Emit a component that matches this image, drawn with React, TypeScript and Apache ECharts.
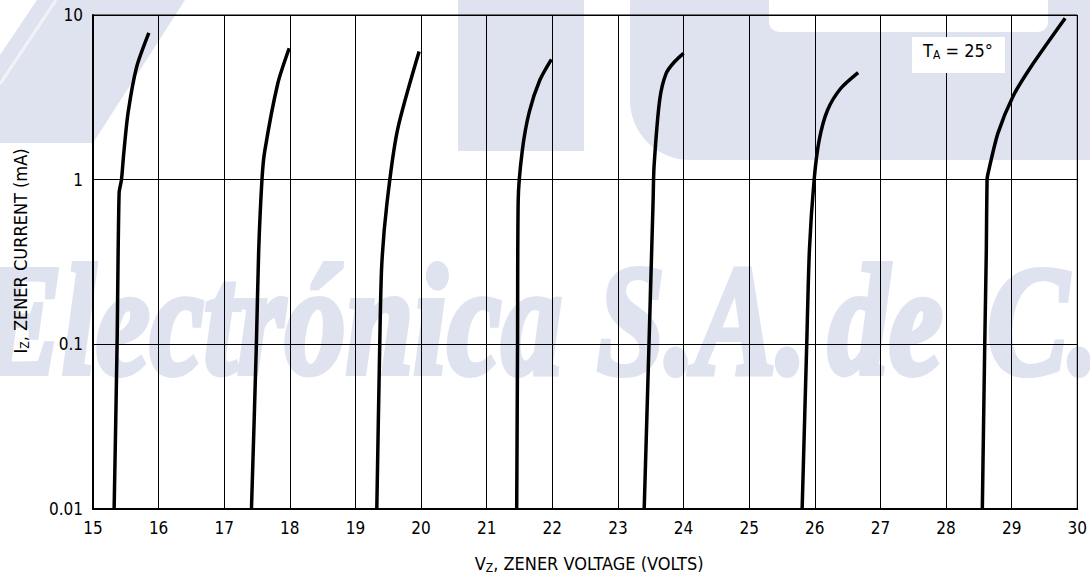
import React, { useEffect, useRef } from "react";
import * as echarts from "echarts";

// ---- data ----
const xTicks = [15, 30];
const yTickLabels = ["0.01", "0.1", "1", "10"];

const c1V = [15.322, 15.367, 15.398, 15.434, 15.469, 15.534, 15.665, 15.851];
const c1I = [0.01, 0.1, 0.83, 1.0, 1.45, 2.54, 4.83, 7.78];

const c2V = [17.415, 17.49, 17.525, 17.575, 17.616, 17.817, 17.99];
const c2I = [0.01, 0.1, 0.37, 1.0, 1.48, 3.85, 6.28];

const c3V = [19.325, 19.37, 19.4, 19.48, 19.64, 19.97];
const c3I = [0.01, 0.1, 0.3, 0.72, 2.0, 6.0];

const c4V = [21.457, 21.47, 21.48, 21.543, 21.65, 21.81, 21.986];
const c4I = [0.01, 0.1, 0.75, 1.51, 2.59, 4.03, 5.38];

const c5V = [23.4, 23.473, 23.536, 23.55, 23.636, 23.736, 23.862, 24.0];
const c5I = [0.01, 0.1, 0.75, 1.2, 3.05, 4.43, 5.2, 5.85];

const c6V = [25.807, 25.877, 25.918, 25.99, 26.067, 26.195, 26.397, 26.66];
const c6I = [0.01, 0.1, 0.374, 1.0, 1.74, 2.65, 3.59, 4.47];

const c7V = [28.553, 28.59, 28.614, 28.625, 28.64, 28.79, 29.018, 29.295, 29.815];
const c7I = [0.01, 0.1, 0.374, 1.0, 1.09, 1.91, 3.19, 4.85, 9.55];

const curves = [
  [c1V, c1I],
  [c2V, c2I],
  [c3V, c3I],
  [c4V, c4I],
  [c5V, c5I],
  [c6V, c6I],
  [c7V, c7I],
];

const FONT = '"DejaVu Sans Condensed", "Liberation Sans Narrow", "Liberation Sans", Arial, sans-serif';
const WM = "#dfe3ef";

export default function App() {
  const ref = useRef<HTMLDivElement>(null);
  useEffect(() => {
    if (!ref.current) return;
    const chart = echarts.init(ref.current, undefined, { renderer: "svg" });
    const wmText = (text: string, x: number, align: string) => ({
      type: "text",
      z: -10,
      silent: true,
      x,
      y: 320,
      scaleX: 0.78,
      style: {
        text,
        fill: WM,
        stroke: WM,
        lineWidth: 6,
        font: 'italic bold 156px "Liberation Serif", "DejaVu Serif", serif',
        textAlign: align,
        align,
        textVerticalAlign: "middle",
        verticalAlign: "middle",
      },
    });
    const richName = {
      n: { fontSize: 18, fontFamily: FONT, color: "#000", lineHeight: 22 },
      s: { fontSize: 12, fontFamily: FONT, color: "#000", lineHeight: 12, verticalAlign: "bottom" },
    };
    const option: any = {
      animation: false,
      backgroundColor: "#fff",
      grid: {
        left: 93,
        right: 5,
        top: 15,
        bottom: 74,
        show: true,
        borderColor: "#000",
        borderWidth: 1,
        backgroundColor: "transparent",
      },
      graphic: [
        // watermark logo pieces
        {
          type: "polygon",
          z: -10,
          silent: true,
          shape: { points: [[37, 0], [185, 0], [93, 143], [0, 143], [0, 55]] },
          style: { fill: WM },
        },
        {
          type: "line",
          z: -9,
          silent: true,
          shape: { x1: 56, y1: 0, x2: 0, y2: 84 },
          style: { stroke: "#f1f3f8", lineWidth: 3 },
        },
        {
          type: "rect",
          z: -10,
          silent: true,
          shape: { x: 458, y: 0, width: 126, height: 151 },
          style: { fill: WM },
        },
        {
          type: "rect",
          z: -10,
          silent: true,
          shape: { x: 630, y: 0, width: 470, height: 160, r: [0, 0, 0, 60] },
          style: { fill: WM },
        },
        {
          type: "rect",
          z: -9,
          silent: true,
          shape: { x: 769, y: -10, width: 279, height: 42, r: [0, 0, 10, 10] },
          style: { fill: "#fff" },
        },
        wmText("Electrónica", 562, "right"),
        wmText("S.A.", 597, "left"),
        wmText("de", 828, "left"),
        wmText("C.V.", 987, "left"),
        // T_A label box
        {
          type: "rect",
          z: 10,
          shape: { x: 912, y: 37, width: 93, height: 36 },
          style: { fill: "#fff" },
        },
        {
          type: "text",
          z: 11,
          x: 958,
          y: 50,
          style: {
            text: "{n|T}{s|A}{n| = 25°}",
            textAlign: "center",
            align: "center",
            textVerticalAlign: "middle",
            verticalAlign: "middle",
            rich: {
              n: { fontSize: 18, fontFamily: FONT, fill: "#000", color: "#000", lineHeight: 22 },
              s: { fontSize: 12, fontFamily: FONT, fill: "#000", color: "#000", lineHeight: 12, verticalAlign: "bottom" },
            },
          },
        },
      ],
      xAxis: {
        type: "value",
        min: xTicks[0],
        max: xTicks[1],
        interval: 1,
        name: "{n|V}{s|Z}{n|, ZENER VOLTAGE (VOLTS)}",
        nameLocation: "middle",
        nameGap: 43,
        nameTextStyle: { rich: richName, padding: [0, 0, 0, 8] },
        axisLine: { show: true, onZero: false, lineStyle: { color: "#000", width: 2 } },
        axisTick: { show: false },
        axisLabel: { color: "#000", fontSize: 17, fontFamily: FONT, margin: 10 },
        splitLine: { show: true, lineStyle: { color: "#000", width: 1 } },
      },
      yAxis: {
        type: "log",
        logBase: 10,
        min: 0.01,
        max: 10,
        name: "{n|I}{s|Z}{n|, ZENER CURRENT (mA)}",
        nameLocation: "middle",
        nameGap: 62,
        nameTextStyle: { rich: richName, padding: [0, 0, 0, 22] },
        axisLine: { show: true, lineStyle: { color: "#000", width: 2 } },
        axisTick: { show: false },
        axisLabel: {
          color: "#000",
          fontSize: 17,
          fontFamily: FONT,
          margin: 10,
          formatter: (v: number) => {
            const k = Math.round(Math.log10(v)) + 2;
            return yTickLabels[k] ?? String(v);
          },
        },
        splitLine: { show: true, lineStyle: { color: "#000", width: 1 } },
        minorTick: { show: false },
        minorSplitLine: { show: false },
      },
      series: curves.map(([v, i]) => ({
        type: "line",
        data: v.map((x, k) => [x, i[k]]),
        showSymbol: false,
        smooth: 0.25,
        lineStyle: { color: "#000", width: 3.5 },
        z: 5,
      })),
    };
    chart.setOption(option);
    return () => chart.dispose();
  }, []);
  return (
    <div
      ref={ref}
      style={{ position: "fixed", left: 0, top: 0, width: 1090, height: 583, background: "#fff" }}
    />
  );
}
